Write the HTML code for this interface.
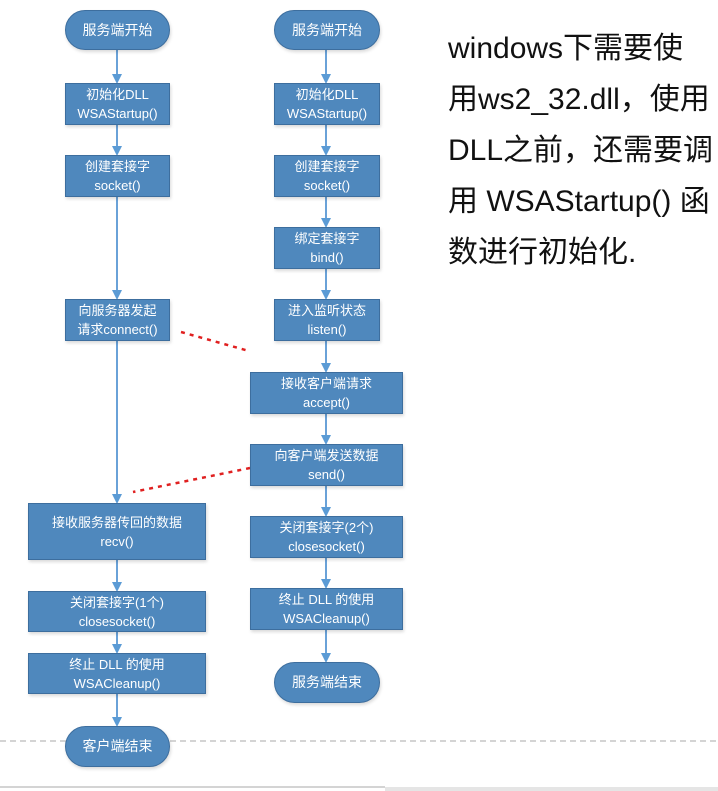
<!DOCTYPE html>
<html><head><meta charset="utf-8"><style>
body{margin:0;width:718px;height:791px;background:#fff;position:relative;overflow:hidden;font-family:"Liberation Sans","Noto Sans CJK SC",sans-serif}
.b{position:absolute;background:#4f88bd;border:1px solid #3d6e9e;color:#fff;font-size:13px;line-height:19px;display:flex;align-items:center;justify-content:center;text-align:center;box-sizing:border-box;box-shadow:1px 2px 3px rgba(0,0,0,.15)}
.t{border-radius:21px;font-size:14px}
.txt{position:absolute;left:448px;top:23px;font-size:30px;line-height:51px;color:#111;white-space:nowrap}
</style></head><body>
<svg width="718" height="791" style="position:absolute;left:0;top:0">
<defs><marker id="a" markerWidth="10" markerHeight="10" refX="8" refY="5" orient="auto" markerUnits="userSpaceOnUse"><path d="M0,0 L10,5 L0,10Z" fill="#5b9bd5"/></marker></defs>
<g stroke="#6aa2d8" stroke-width="2" marker-end="url(#a)">
<line x1="117" y1="50" x2="117" y2="82"/><line x1="117" y1="125" x2="117" y2="154"/><line x1="117" y1="197" x2="117" y2="298"/><line x1="117" y1="341" x2="117" y2="502"/><line x1="117" y1="560" x2="117" y2="590"/><line x1="117" y1="632" x2="117" y2="652"/><line x1="117" y1="694" x2="117" y2="725"/>
<line x1="326" y1="50" x2="326" y2="82"/><line x1="326" y1="125" x2="326" y2="154"/><line x1="326" y1="197" x2="326" y2="226"/><line x1="326" y1="269" x2="326" y2="298"/><line x1="326" y1="341" x2="326" y2="371"/><line x1="326" y1="414" x2="326" y2="443"/><line x1="326" y1="486" x2="326" y2="515"/><line x1="326" y1="558" x2="326" y2="587"/><line x1="326" y1="630" x2="326" y2="661"/>
</g>
<g stroke="#e02020" stroke-width="2.5" stroke-dasharray="4,5">
<line x1="181" y1="332" x2="249" y2="351"/><line x1="250" y1="468" x2="133" y2="492"/>
</g>
<line x1="0" y1="741" x2="718" y2="741" stroke="#aaa" stroke-dasharray="6,4"/>
<line x1="0" y1="787" x2="385" y2="787" stroke="#aaa"/>
<rect x="385" y="787" width="333" height="4" fill="#e5e5e5"/>
</svg>
<div class="b t" style="left:65px;top:10px;width:105px;height:40px">服务端开始</div>
<div class="b" style="left:65px;top:83px;width:105px;height:42px">初始化DLL<br>WSAStartup()</div>
<div class="b" style="left:65px;top:155px;width:105px;height:42px">创建套接字<br>socket()</div>
<div class="b" style="left:65px;top:299px;width:105px;height:42px">向服务器发起<br>请求connect()</div>
<div class="b" style="left:28px;top:503px;width:178px;height:57px">接收服务器传回的数据<br>recv()</div>
<div class="b" style="left:28px;top:591px;width:178px;height:41px">关闭套接字(1个)<br>closesocket()</div>
<div class="b" style="left:28px;top:653px;width:178px;height:41px">终止 DLL 的使用<br>WSACleanup()</div>
<div class="b t" style="left:65px;top:726px;width:105px;height:41px">客户端结束</div>
<div class="b t" style="left:274px;top:10px;width:106px;height:40px">服务端开始</div>
<div class="b" style="left:274px;top:83px;width:106px;height:42px">初始化DLL<br>WSAStartup()</div>
<div class="b" style="left:274px;top:155px;width:106px;height:42px">创建套接字<br>socket()</div>
<div class="b" style="left:274px;top:227px;width:106px;height:42px">绑定套接字<br>bind()</div>
<div class="b" style="left:274px;top:299px;width:106px;height:42px">进入监听状态<br>listen()</div>
<div class="b" style="left:250px;top:372px;width:153px;height:42px">接收客户端请求<br>accept()</div>
<div class="b" style="left:250px;top:444px;width:153px;height:42px">向客户端发送数据<br>send()</div>
<div class="b" style="left:250px;top:516px;width:153px;height:42px">关闭套接字(2个)<br>closesocket()</div>
<div class="b" style="left:250px;top:588px;width:153px;height:42px">终止 DLL 的使用<br>WSACleanup()</div>
<div class="b t" style="left:274px;top:662px;width:106px;height:41px">服务端结束</div>
<div class="txt">windows下需要使<br>用ws2_32.dll，使用<br>DLL之前，还需要调<br>用 WSAStartup() 函<br>数进行初始化.</div>
</body></html>
